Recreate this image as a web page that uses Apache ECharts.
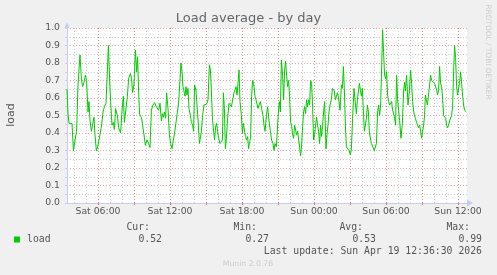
<!DOCTYPE html>
<html>
<head>
<meta charset="utf-8">
<script src="https://cdn.jsdelivr.net/npm/echarts@6/dist/echarts.min.js"></script>
<style>
html,body{margin:0;padding:0;background:#F0F0F0;}
#chart{width:497px;height:275px;}
</style>
</head>
<body>
<div id="chart"></div>
<script>
// Minutes after Sat 03:25 (left edge of plot), and load average read at those times
const sampleMinute = [
0,5,10,18,25,32,40,48,55,65,72,78,85,92,98,105,110,115,122,128,135,140,147,153,160,167,173,180,187,195,202,207,213,218,225,232,237,243,252,258,268,277,282,287,295,302,308,317,323,328,335,342,348,353,358,363,372,378,385,392,400,408,415,422,430,438,447,453,458,465,472,477,482,487,493,498,505,512,518,525,532,538,545,552,558,565,570,575,580,585,590,595,600,605,610,617,622,628,633,638,645,650,657,662,668,672,678,685,692,698,705,712,717,722,727,733,738,743,748,753,758,765,772,777,782,787,792,797,803,810,815,822,828,835,840,845,850,855,860,865,872,877,882,887,892,898,903,908,913,918,923,928,933,940,945,950,955,960,967,973,980,985,990,997,1003,1010,1017,1023,1030,1035,1040,1047,1052,1057,1062,1067,1072,1078,1083,1088,1093,1098,1103,1108,1113,1118,1123,1128,1133,1138,1143,1148,1153,1158,1163,1168,1173,1178,1183,1188,1193,1198,1203,1208,1213,1218,1223,1228,1233,1238,1243,1248,1253,1258,1263,1268,1273,1278,1283,1288,1295,1300,1305,1310,1315,1322,1327,1332,1337,1342,1345,1352,1358,1365,1372,1377,1382,1387,1392,1397,1403,1410,1417,1422,1428,1435,1440,1447,1452,1457,1462,1467,1472,1477,1482,1487,1492,1497,1502,1507,1512,1517,1522,1527,1532,1537,1542,1547,1553,1558,1563,1568,1573,1578,1583,1588,1593,1598,1603,1608,1613,1618,1623,1628,1633,1638,1643,1648,1653,1658,1663,1670,1677,1683,1688,1692,1698,1705,1712,1718,1723,1728,1735,1742,1748,1753,1758,1763,1768,1773,1778,1783,1788,1792,1797,1802,1807,1813,1818,1823,1828,1833,1838,1843,1848,1853,1858,1863,1868,1873,1878,1883,1888,1893,1898,1903,1908,1913,1918,1923,1928,1933,1938,1943,1948,1953,1958,1963,1968,1973,1978,1983,1988,1993,1997
];
const loadValues = [
0.65,0.51,0.455,0.445,0.455,0.30,0.36,0.41,0.675,0.846,0.71,0.665,0.69,0.73,0.70,0.52,0.58,0.47,0.41,0.40,0.49,0.39,0.297,0.32,0.36,0.35,0.445,0.52,0.55,0.57,0.57,0.90,0.71,0.58,0.445,0.46,0.42,0.54,0.50,0.43,0.40,0.56,0.61,0.46,0.46,0.61,0.71,0.74,0.71,0.63,0.68,0.874,0.75,0.836,0.64,0.507,0.49,0.445,0.39,0.33,0.36,0.34,0.316,0.531,0.56,0.573,0.55,0.56,0.53,0.57,0.47,0.51,0.49,0.52,0.484,0.63,0.54,0.39,0.34,0.31,0.36,0.40,0.39,0.52,0.57,0.58,0.80,0.75,0.665,0.675,0.61,0.665,0.617,0.655,0.54,0.50,0.46,0.445,0.41,0.675,0.64,0.56,0.445,0.34,0.35,0.41,0.50,0.56,0.57,0.565,0.59,0.79,0.76,0.64,0.49,0.41,0.36,0.435,0.455,0.41,0.37,0.34,0.33,0.36,0.63,0.54,0.31,0.37,0.484,0.57,0.58,0.55,0.56,0.63,0.64,0.665,0.617,0.684,0.76,0.58,0.50,0.40,0.455,0.445,0.38,0.36,0.38,0.31,0.35,0.37,0.61,0.70,0.684,0.61,0.59,0.59,0.54,0.56,0.58,0.54,0.50,0.445,0.41,0.50,0.55,0.47,0.41,0.36,0.34,0.30,0.34,0.32,0.33,0.52,0.58,0.52,0.817,0.73,0.59,0.76,0.81,0.73,0.665,0.70,0.61,0.46,0.445,0.39,0.37,0.445,0.455,0.39,0.41,0.40,0.32,0.27,0.33,0.435,0.52,0.55,0.51,0.59,0.55,0.59,0.56,0.70,0.684,0.55,0.36,0.39,0.445,0.49,0.445,0.41,0.34,0.445,0.38,0.445,0.52,0.58,0.31,0.39,0.445,0.52,0.56,0.59,0.655,0.665,0.64,0.59,0.60,0.63,0.60,0.53,0.675,0.655,0.78,0.64,0.445,0.32,0.31,0.30,0.274,0.31,0.484,0.655,0.59,0.51,0.59,0.64,0.684,0.645,0.61,0.655,0.52,0.41,0.40,0.484,0.56,0.52,0.40,0.39,0.34,0.33,0.35,0.30,0.31,0.34,0.52,0.56,0.50,0.56,0.76,0.99,0.86,0.73,0.71,0.75,0.617,0.58,0.56,0.55,0.58,0.53,0.51,0.484,0.445,0.73,0.59,0.53,0.47,0.37,0.46,0.64,0.69,0.64,0.73,0.56,0.64,0.76,0.684,0.58,0.51,0.484,0.46,0.47,0.43,0.445,0.41,0.37,0.36,0.445,0.50,0.617,0.59,0.56,0.61,0.675,0.73,0.70,0.69,0.69,0.684,0.69,0.645,0.617,0.645,0.78,0.684,0.665,0.60,0.50,0.49,0.484,0.445,0.43,0.445,0.47,0.46,0.50,0.55,0.75,0.90,0.83,0.665,0.617,0.655,0.69,0.75,0.684,0.617,0.56,0.53,0.52,0.52
];
const tickMinutes = [155, 515, 875, 1235, 1595, 1955];
const tickLabels = ['Sat 06:00', 'Sat 12:00', 'Sat 18:00', 'Sun 00:00', 'Sun 06:00', 'Sun 12:00'];
const legendHeaders = ['Cur:', 'Min:', 'Avg:', 'Max:'];
const legendValues = ['0.52', '0.27', '0.53', '0.99'];
const lastUpdate = 'Last update: Sun Apr 19 12:36:30 2026';

const majorGrid = []; for (let m = 155; m <= 2000; m += 180) majorGrid.push(m);
const minorGrid = []; for (let m = 35; m <= 2000; m += 60) minorGrid.push(m);

const FONT = 'DejaVu Sans';
const MONO = 'DejaVu Sans Mono';
const AXISC = '#C8CCF4';
const MINORC = '#CCCCCC';
const MAJORC = 'rgba(230,90,90,0.55)';

const chart = echarts.init(document.getElementById('chart'), null, {renderer: 'canvas'});
const data = sampleMinute.map((m, i) => [m, loadValues[i]]);

const graphic = [
  {type: 'text', left: 'center', top: 12, style: {text: 'Load average - by day', fontFamily: FONT, fontSize: 13, fill: '#666'}},
  {type: 'text', x: 11, y: 115, rotation: Math.PI / 2, style: {text: 'load', fontFamily: FONT, fontSize: 11, fill: '#555', align: 'center', verticalAlign: 'middle'}},
  {type: 'text', x: 488, y: 52, rotation: -Math.PI / 2, style: {text: 'RRDTOOL / TOBI OETIKER', fontFamily: FONT, fontSize: 7.4, fill: '#CCCCCC', align: 'center', verticalAlign: 'middle'}},
  {type: 'rect', shape: {x: 14, y: 236.5, width: 6, height: 6}, style: {fill: '#00CC00'}},
  {type: 'text', x: 27, y: 239.5, style: {text: 'load', fontFamily: MONO, fontSize: 9.8, fill: '#555', verticalAlign: 'middle'}},
  {type: 'text', x: 482, y: 251.5, style: {text: lastUpdate, fontFamily: MONO, fontSize: 9.8, fill: '#555', align: 'right', verticalAlign: 'middle'}},
  {type: 'text', x: 248, y: 264, style: {text: 'Munin 2.0.76', fontFamily: FONT, fontSize: 7.7, fill: '#CCCCCC', align: 'center', verticalAlign: 'middle'}}
];
const headerRight = [150, 257, 363, 470];
const valueRight = [162, 269, 376, 482];
legendHeaders.forEach((h, i) => {
  graphic.push({type: 'text', x: headerRight[i], y: 227, style: {text: h, fontFamily: MONO, fontSize: 9.8, fill: '#555', align: 'right', verticalAlign: 'middle'}});
  graphic.push({type: 'text', x: valueRight[i], y: 239.5, style: {text: legendValues[i], fontFamily: MONO, fontSize: 9.8, fill: '#555', align: 'right', verticalAlign: 'middle'}});
});

chart.setOption({
  animation: false,
  backgroundColor: '#F0F0F0',
  grid: {left: 67, top: 28, width: 400, height: 175, show: true, backgroundColor: '#FFFFFF', borderWidth: 0, containLabel: false},
  xAxis: [
    {
      type: 'value', position: 'bottom', min: 0, max: 2000,
      axisLine: {show: false}, axisLabel: {show: false},
      axisTick: {show: false, customValues: minorGrid},
      splitLine: {show: true, lineStyle: {color: MINORC, width: 1, type: [1, 2]}}
    },
    {
      type: 'value', position: 'bottom', min: 0, max: 2000,
      axisLine: {show: true, onZero: false, lineStyle: {color: AXISC, width: 1}, symbol: ['none', 'triangle'], symbolSize: [7, 6], symbolOffset: [0, 3]},
      axisTick: {show: true, length: 2, inside: false, customValues: majorGrid, lineStyle: {color: '#F07070'}},
      axisLabel: {show: true, customValues: tickMinutes, margin: 4, fontFamily: FONT, fontSize: 9.3, color: '#555',
        formatter: v => tickLabels[tickMinutes.indexOf(v)] || ''},
      splitLine: {show: true, lineStyle: {color: MAJORC, width: 1, type: [1, 2]}}
    }
  ],
  yAxis: {
    type: 'value', min: 0, max: 1, interval: 0.1,
    axisLine: {show: true, lineStyle: {color: AXISC, width: 1}, symbol: ['none', 'triangle'], symbolSize: [5, 6], symbolOffset: [0, 3]},
    axisTick: {show: true, length: 2, lineStyle: {color: AXISC}},
    axisLabel: {margin: 7, fontFamily: FONT, fontSize: 9.3, color: '#555', formatter: v => v.toFixed(1)},
    splitLine: {show: true, lineStyle: {color: MAJORC, width: 1, type: [1, 2]}},
    minorTick: {show: true, splitNumber: 2, length: 2, lineStyle: {color: AXISC}},
    minorSplitLine: {show: true, lineStyle: {color: MINORC, width: 1, type: [1, 2]}}
  },
  series: [{
    type: 'line', xAxisIndex: 1, data: data, showSymbol: false, symbol: 'none',
    lineStyle: {color: '#00CC00', width: 1}, z: 5
  }],
  graphic: graphic
});
</script>
</body>
</html>
